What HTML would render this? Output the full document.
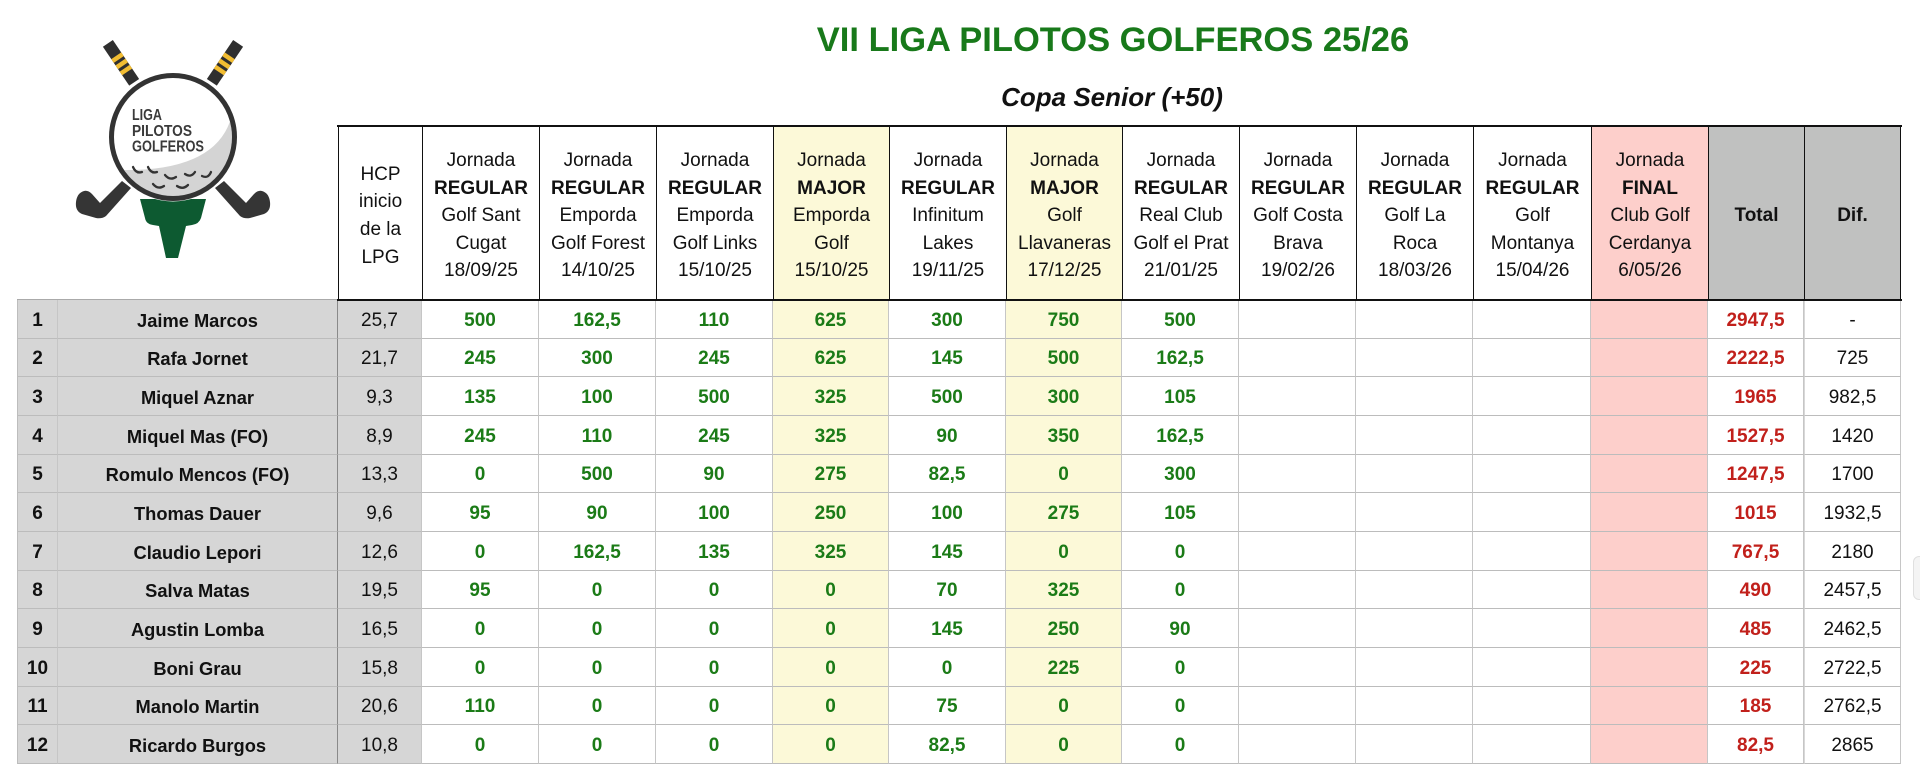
<!DOCTYPE html>
<html>
<head>
<meta charset="utf-8">
<style>
html,body{margin:0;padding:0;background:#fff;}
body{width:1920px;height:784px;position:relative;overflow:hidden;font-family:"Liberation Sans",Arial,Helvetica,sans-serif;color:#111;}
.title{position:absolute;left:763px;width:700px;top:22.5px;text-align:center;font-size:34.5px;line-height:34.5px;font-weight:bold;color:#18791a;white-space:nowrap;}
.sub{position:absolute;left:862px;width:500px;top:84px;text-align:center;font-size:26px;line-height:26px;font-weight:bold;font-style:italic;color:#111;white-space:nowrap;}
.hdr{position:absolute;left:338px;top:126px;width:1563px;height:174px;display:grid;
 grid-template-columns:84px 117px 117px 117px 116px 117px 116px 117px 117px 117px 118px 117px 96px 97px;grid-template-rows:174px;}
.hdr>div{box-sizing:border-box;border-left:1.5px solid #111;display:flex;align-items:center;justify-content:center;text-align:center;font-size:19px;line-height:27.6px;background:#fff;white-space:nowrap;}
.hdr>div>span{display:block;position:relative;top:3px;}
.hdr>div.last{border-right:1.5px solid #111;}
.hdr>div.y{background:#fcf9d8;}
.hdr>div.p{background:#fdcfcb;}
.hdr>div.gh{background:#c0c1c0;font-weight:bold;}
.line{position:absolute;background:#111;}
.body{position:absolute;left:17px;top:299px;width:1884px;border-top:1px solid #aaa;display:grid;
 grid-template-columns:41px 280px 84px 117px 117px 117px 116px 117px 116px 117px 117px 117px 118px 117px 96px 97px;
 grid-template-rows:repeat(12,38.667px);}
.body>div{box-sizing:border-box;padding-top:4px;border-right:1px solid #c6c6c6;border-bottom:1px solid #bcbcbc;display:flex;align-items:center;justify-content:center;font-size:19px;font-weight:bold;color:#1b7b17;background:#fff;white-space:nowrap;}
.body>div.n{background:#d6d6d6;color:#111;border-left:1px solid #bdbdbd;}
.body>div.m{background:#d6d6d6;color:#111;font-size:18.3px;border-right:1px solid #8a8a8a;}
.body>div.h{background:#d6d6d6;color:#111;font-weight:normal;}
.body>div.y{background:#fcf9d8;}
.body>div.p{background:#fdcfcb;}
.body>div.t{color:#c1201b;}
.body>div.d{color:#111;font-weight:normal;border-left:1px solid #d8d8d8;}
.scroll{position:absolute;left:1913px;top:556px;width:12px;height:42px;background:#f4f4f4;border:1px solid #e0e0e0;border-radius:6px;}
</style>
</head>
<body>

<svg style="position:absolute;left:0;top:0" width="340" height="300" viewBox="0 0 340 300">
  <defs>
    <clipPath id="bc"><circle cx="173" cy="137" r="59"/></clipPath>
  </defs>
  <!-- upper shafts -->
  <g transform="translate(109,45) rotate(56)">
    <rect x="-2" y="-6" width="47" height="12" fill="#2f2f2f"/>
    <rect x="13" y="-6" width="4.5" height="12" fill="#f2bd32"/>
    <rect x="20.5" y="-6" width="4.5" height="12" fill="#f2bd32"/>
    <rect x="28" y="-6" width="4.5" height="12" fill="#f2bd32"/>
  </g>
  <g transform="translate(237,45) rotate(124)">
    <rect x="-2" y="-6" width="47" height="12" fill="#2f2f2f"/>
    <rect x="13" y="-6" width="4.5" height="12" fill="#f2bd32"/>
    <rect x="20.5" y="-6" width="4.5" height="12" fill="#f2bd32"/>
    <rect x="28" y="-6" width="4.5" height="12" fill="#f2bd32"/>
  </g>
  <!-- lower clubs -->
  <path fill="#353535" d="M122 181 L131 188 L106 216 Q102 219 96 218 L82 214 Q75 211 76 202 Q77 193 84 191 Q88 190 92 194 L100 203 Z"/>
  <path fill="#353535" transform="translate(346,0) scale(-1,1)" d="M122 181 L131 188 L106 216 Q102 219 96 218 L82 214 Q75 211 76 202 Q77 193 84 191 Q88 190 92 194 L100 203 Z"/>
  <!-- tee -->
  <path fill="#0d5a31" d="M140 199 L206 199 L201 218 Q199 224 192 225 L186 226 L178 258 L166 258 L159 226 L153 225 Q146 224 145 218 Z"/>
  <!-- ball -->
  <circle cx="173" cy="137" r="64.5" fill="#fff"/>
  <circle cx="173" cy="137" r="61.5" fill="#fff"/>
  <path clip-path="url(#bc)" fill="#d4d4d4" d="M240 85 L233 110 Q222 172 120 170 L100 250 L250 250 Z"/>
  <circle cx="173" cy="137" r="61.5" fill="none" stroke="#333" stroke-width="5"/>
  <g fill="none" stroke="#333" stroke-width="2.3" stroke-linecap="round">
    <path d="M133 167 Q136 174 142 172"/>
    <path d="M148 167 Q151 174 157 172"/>
    <path d="M165 175 Q170 181 176 177"/>
    <path d="M185 174 Q191 178 195 172"/>
    <path d="M202 176 Q208 179 211 172"/>
    <path d="M153 184 Q158 190 164 186"/>
    <path d="M177 186 Q183 190 188 185"/>
  </g>
  <g font-family="Liberation Sans, Arial, sans-serif" font-weight="bold" font-size="15.5" fill="#3a3a3a">
    <text x="132" y="120" textLength="30" lengthAdjust="spacingAndGlyphs">LIGA</text>
    <text x="132" y="136" textLength="60" lengthAdjust="spacingAndGlyphs">PILOTOS</text>
    <text x="132" y="151.5" textLength="72" lengthAdjust="spacingAndGlyphs">GOLFEROS</text>
  </g>
</svg>

<div class="title">VII LIGA PILOTOS GOLFEROS 25/26</div>
<div class="sub">Copa Senior (+50)</div>

<div class="body">
  <div class="n">1</div><div class="m">Jaime Marcos</div><div class="h">25,7</div><div>500</div><div>162,5</div><div>110</div><div class="y">625</div><div>300</div><div class="y">750</div><div>500</div><div></div><div></div><div></div><div class="p"></div><div class="t">2947,5</div><div class="d">-</div>
  <div class="n">2</div><div class="m">Rafa Jornet</div><div class="h">21,7</div><div>245</div><div>300</div><div>245</div><div class="y">625</div><div>145</div><div class="y">500</div><div>162,5</div><div></div><div></div><div></div><div class="p"></div><div class="t">2222,5</div><div class="d">725</div>
  <div class="n">3</div><div class="m">Miquel Aznar</div><div class="h">9,3</div><div>135</div><div>100</div><div>500</div><div class="y">325</div><div>500</div><div class="y">300</div><div>105</div><div></div><div></div><div></div><div class="p"></div><div class="t">1965</div><div class="d">982,5</div>
  <div class="n">4</div><div class="m">Miquel Mas (FO)</div><div class="h">8,9</div><div>245</div><div>110</div><div>245</div><div class="y">325</div><div>90</div><div class="y">350</div><div>162,5</div><div></div><div></div><div></div><div class="p"></div><div class="t">1527,5</div><div class="d">1420</div>
  <div class="n">5</div><div class="m">Romulo Mencos (FO)</div><div class="h">13,3</div><div>0</div><div>500</div><div>90</div><div class="y">275</div><div>82,5</div><div class="y">0</div><div>300</div><div></div><div></div><div></div><div class="p"></div><div class="t">1247,5</div><div class="d">1700</div>
  <div class="n">6</div><div class="m">Thomas Dauer</div><div class="h">9,6</div><div>95</div><div>90</div><div>100</div><div class="y">250</div><div>100</div><div class="y">275</div><div>105</div><div></div><div></div><div></div><div class="p"></div><div class="t">1015</div><div class="d">1932,5</div>
  <div class="n">7</div><div class="m">Claudio Lepori</div><div class="h">12,6</div><div>0</div><div>162,5</div><div>135</div><div class="y">325</div><div>145</div><div class="y">0</div><div>0</div><div></div><div></div><div></div><div class="p"></div><div class="t">767,5</div><div class="d">2180</div>
  <div class="n">8</div><div class="m">Salva Matas</div><div class="h">19,5</div><div>95</div><div>0</div><div>0</div><div class="y">0</div><div>70</div><div class="y">325</div><div>0</div><div></div><div></div><div></div><div class="p"></div><div class="t">490</div><div class="d">2457,5</div>
  <div class="n">9</div><div class="m">Agustin Lomba</div><div class="h">16,5</div><div>0</div><div>0</div><div>0</div><div class="y">0</div><div>145</div><div class="y">250</div><div>90</div><div></div><div></div><div></div><div class="p"></div><div class="t">485</div><div class="d">2462,5</div>
  <div class="n">10</div><div class="m">Boni Grau</div><div class="h">15,8</div><div>0</div><div>0</div><div>0</div><div class="y">0</div><div>0</div><div class="y">225</div><div>0</div><div></div><div></div><div></div><div class="p"></div><div class="t">225</div><div class="d">2722,5</div>
  <div class="n">11</div><div class="m">Manolo Martin</div><div class="h">20,6</div><div>110</div><div>0</div><div>0</div><div class="y">0</div><div>75</div><div class="y">0</div><div>0</div><div></div><div></div><div></div><div class="p"></div><div class="t">185</div><div class="d">2762,5</div>
  <div class="n">12</div><div class="m">Ricardo Burgos</div><div class="h">10,8</div><div>0</div><div>0</div><div>0</div><div class="y">0</div><div>82,5</div><div class="y">0</div><div>0</div><div></div><div></div><div></div><div class="p"></div><div class="t">82,5</div><div class="d">2865</div>
</div>

<div class="hdr">
  <div><span>HCP<br>inicio<br>de la<br>LPG</span></div>
  <div><span>Jornada<br><b>REGULAR</b><br>Golf Sant<br>Cugat<br>18/09/25</span></div>
  <div><span>Jornada<br><b>REGULAR</b><br>Emporda<br>Golf Forest<br>14/10/25</span></div>
  <div><span>Jornada<br><b>REGULAR</b><br>Emporda<br>Golf Links<br>15/10/25</span></div>
  <div class="y"><span>Jornada<br><b>MAJOR</b><br>Emporda<br>Golf<br>15/10/25</span></div>
  <div><span>Jornada<br><b>REGULAR</b><br>Infinitum<br>Lakes<br>19/11/25</span></div>
  <div class="y"><span>Jornada<br><b>MAJOR</b><br>Golf<br>Llavaneras<br>17/12/25</span></div>
  <div><span>Jornada<br><b>REGULAR</b><br>Real Club<br>Golf el Prat<br>21/01/25</span></div>
  <div><span>Jornada<br><b>REGULAR</b><br>Golf Costa<br>Brava<br>19/02/26</span></div>
  <div><span>Jornada<br><b>REGULAR</b><br>Golf La<br>Roca<br>18/03/26</span></div>
  <div><span>Jornada<br><b>REGULAR</b><br>Golf<br>Montanya<br>15/04/26</span></div>
  <div class="p"><span>Jornada<br><b>FINAL</b><br>Club Golf<br>Cerdanya<br>6/05/26</span></div>
  <div class="gh"><span>Total</span></div>
  <div class="gh last"><span>Dif.</span></div>
</div>
<div class="line" style="left:337px;top:125px;width:1565px;height:2px;"></div>
<div class="line" style="left:337px;top:299px;width:1565px;height:2px;"></div>

<div class="scroll"></div>
</body>
</html>
